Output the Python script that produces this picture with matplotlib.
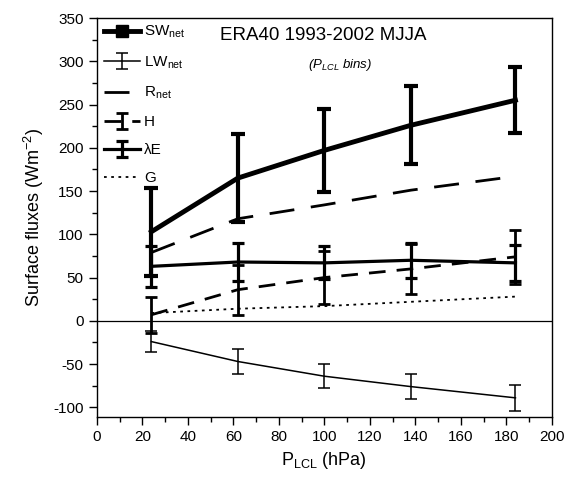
import matplotlib
matplotlib.use("Agg")
import matplotlib.pyplot as plt
from matplotlib.lines import Line2D
from matplotlib.ticker import MultipleLocator

plt.rcParams['font.family'] = ['Liberation Sans', 'DejaVu Sans']
plt.rcParams['mathtext.fontset'] = 'custom'
plt.rcParams['mathtext.rm'] = 'Liberation Sans'
plt.rcParams['mathtext.it'] = 'Liberation Sans:italic'
plt.rcParams['axes.unicode_minus'] = False

# Data (bin centres of P_LCL, hPa)
p_lcl = [24, 62, 100, 138, 184]
sw_net = [103, 165, 197, 226, 255]
sw_err = [51, 51, 48, 45, 38]
lw_net = [-24, -47, -64, -76, -89]
lw_err = [12, 14, 14, 14, 15]
r_net = [79, 118, 134, 151, 167]
h_flux = [7, 36, 50, 60, 74]
h_err = [21, 29, 31, 29, 31]
le_flux = [63, 68, 67, 70, 67]
le_err = [24, 22, 19, 20, 21]
g_flux = [9, 14, 17, 22, 28]

fig = plt.figure(figsize=(5.66, 4.87), dpi=100)
ax = fig.add_axes([0.171, 0.144, 0.804, 0.819])

ax.axhline(0, color='k', lw=0.9)

ax.errorbar(p_lcl, sw_net, yerr=sw_err, color='k', lw=3.5, elinewidth=3,
            capsize=5, capthick=3)
lw_c = ax.errorbar(p_lcl, lw_net, yerr=lw_err, color='k', lw=1.1,
                   elinewidth=1.1, capsize=4, capthick=1.1)
rn_l, = ax.plot(p_lcl, r_net, color='k', lw=2, dashes=(9, 6))
h_c = ax.errorbar(p_lcl, h_flux, yerr=h_err, color='k', lw=2, elinewidth=2,
                  capsize=4, capthick=2, dashes=(6, 4))
h_c[2][0].set_linestyle('-')
le_c = ax.errorbar(p_lcl, le_flux, yerr=le_err, color='k', lw=2.3,
                   elinewidth=2.3, capsize=4, capthick=2.3)
g_l, = ax.plot(p_lcl, g_flux, color='k', lw=1.3, dashes=(1.5, 2.5))

sw_h = Line2D([], [], color='k', lw=3.5, marker='s', ms=8)

ax.legend([sw_h, lw_c, rn_l, h_c, le_c, g_l],
          ['SW$_{\\mathrm{net}}$', 'LW$_{\\mathrm{net}}$', 'R$_{\\mathrm{net}}$',
           'H', 'λE', 'G'],
          loc='upper left', bbox_to_anchor=(-0.005, 1.008), frameon=False,
          fontsize=11, handlelength=2.4, handletextpad=0.25,
          labelspacing=0.92, borderaxespad=0.2)

ax.text(0.497, 0.955, 'ERA40 1993-2002 MJJA', transform=ax.transAxes,
        ha='center', va='center', fontsize=13.5)
ax.text(0.535, 0.882, '($P_{LCL}$ $bins$)', transform=ax.transAxes,
        ha='center', va='center', fontsize=9.5, style='italic')

ax.set_xlim(0, 200)
ax.set_ylim(-111, 350)
ax.xaxis.set_major_locator(MultipleLocator(20))
ax.xaxis.set_minor_locator(MultipleLocator(10))
ax.yaxis.set_major_locator(MultipleLocator(50))
ax.yaxis.set_minor_locator(MultipleLocator(25))
ax.tick_params(which='major', length=6, width=1, labelsize=11, direction='out')
ax.tick_params(which='minor', length=3.5, width=1, direction='out')
for s in ax.spines.values():
    s.set_linewidth(1)

ax.set_xlabel('P$_{\\mathrm{LCL}}$ (hPa)', fontsize=13, labelpad=4)
ax.set_ylabel('Surface fluxes (Wm$^{\\mathrm{-2}}$)', fontsize=13, labelpad=5)

fig.savefig('out.png', dpi=100)
